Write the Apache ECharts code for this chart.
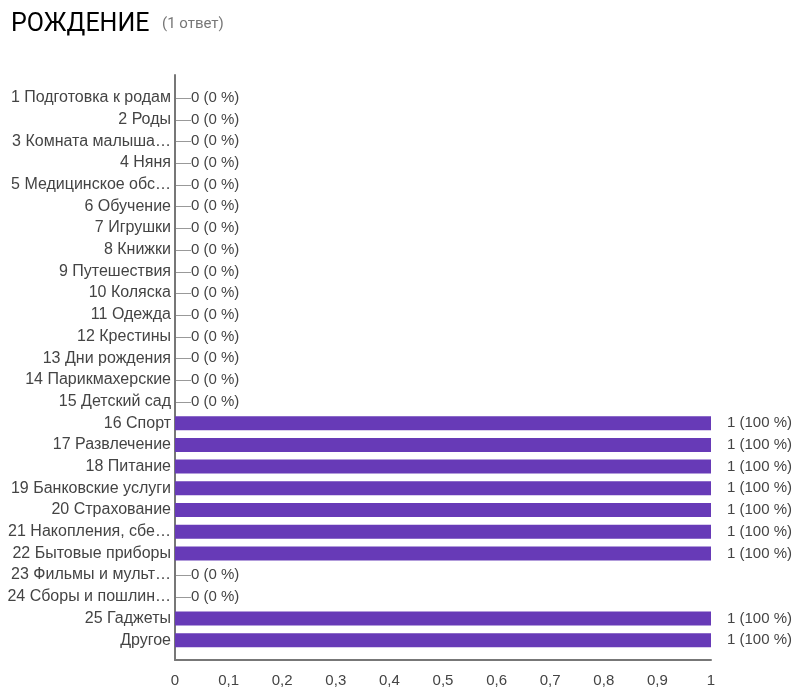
<!DOCTYPE html>
<html>
<head>
<meta charset="utf-8">
<script src="https://cdn.jsdelivr.net/npm/echarts@6/dist/echarts.min.js"></script>
<style>
  html, body { margin: 0; padding: 0; background: #fff; }
  #chart { width: 807px; height: 698px; }
</style>
</head>
<body>
<div id="chart"></div>
<script>
// категории (сверху вниз)
const categories = [
  '1 Подготовка к родам', '2 Роды', '3 Комната малыша…', '4 Няня',
  '5 Медицинское обс…', '6 Обучение', '7 Игрушки', '8 Книжки',
  '9 Путешествия', '10 Коляска', '11 Одежда', '12 Крестины',
  '13 Дни рождения', '14 Парикмахерские', '15 Детский сад', '16 Спорт',
  '17 Развлечение', '18 Питание', '19 Банковские услуги', '20 Страхование',
  '21 Накопления, сбе…', '22 Бытовые приборы', '23 Фильмы и мульт…',
  '24 Сборы и пошлин…', '25 Гаджеты', 'Другое'
]
const counts = [0, 0, 0, 0, 0, 0, 0, 0, 0, 0, 0, 0, 0, 0, 0, 1, 1, 1, 1, 1, 1, 1, 0, 0, 1, 1]
const totalAnswers = 1
const xTicks = [0, 0.1, 0.2, 0.3, 0.4, 0.5, 0.6, 0.7, 0.8, 0.9, 1]

const chart = echarts.init(document.getElementById('chart'))
const titleFont = 'Roboto, sans-serif'
const font = '"Liberation Sans", Arial, sans-serif'

const barData = counts.map(v => {
  const pct = Math.round(v / totalAnswers * 100)
  if (v === 0) {
    return {
      value: v,
      label: { distance: 1, formatter: `{s|—}${v} (${pct} %)` }
    }
  }
  return { value: v, label: { distance: 16, formatter: `${v} (${pct} %)` } }
})

const option = {
  animation: false,
  title: [
    {
      text: 'РОЖДЕНИЕ',
      left: 6,
      top: 7,
      textStyle: { fontFamily: titleFont, fontSize: 25, fontWeight: 'normal', color: '#000' }
    },
    {
      text: '(1 ответ)',
      left: 157,
      top: 12,
      textStyle: { fontFamily: titleFont, fontSize: 15, fontWeight: 'normal', color: '#777' }
    }
  ],
  grid: [
    { left: 175, right: 96, top: 87, height: 564, containLabel: false },
    { left: 175, right: 96, top: 75, height: 585, containLabel: false }
  ],
  xAxis: [
    {
      type: 'value',
      min: 0,
      max: 1,
      interval: 0.1,
      offset: 9,
      axisLine: { show: true, lineStyle: { color: '#777', width: 2 } },
      axisTick: { show: false },
      splitLine: { show: false },
      axisLabel: {
        margin: 13,
        fontFamily: font,
        fontSize: 15,
        color: '#444',
        formatter: v => {
          const t = xTicks.find(x => Math.abs(x - v) < 1e-9)
          return String(t !== undefined ? t : v).replace('.', ',')
        }
      }
    },
    { type: 'value', gridIndex: 1, show: false, min: 0, max: 1 }
  ],
  yAxis: [
    {
      type: 'category',
      data: categories,
      inverse: true,
      axisLine: { show: false },
      axisTick: { show: false },
      axisLabel: { margin: 4, fontFamily: font, fontSize: 16, color: '#444' }
    },
    {
      type: 'category',
      gridIndex: 1,
      data: [],
      axisLine: { show: true, lineStyle: { color: '#777', width: 2 } },
      axisTick: { show: false },
      axisLabel: { show: false }
    }
  ],
  series: [
    {
      type: 'bar',
      data: barData,
      barWidth: 14,
      itemStyle: { color: '#673ab7' },
      label: {
        show: true,
        position: 'right',
        fontFamily: font,
        fontSize: 15,
        color: '#444',
        rich: {
          s: { fontFamily: font, fontSize: 15, color: '#999' }
        }
      }
    }
  ]
}

chart.setOption(option)
</script>
</body>
</html>
